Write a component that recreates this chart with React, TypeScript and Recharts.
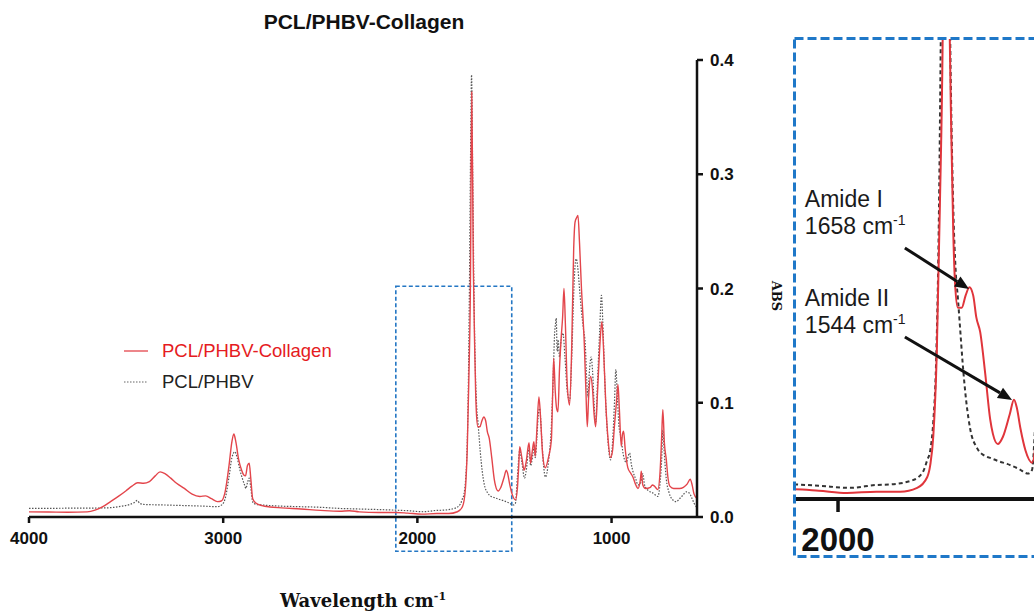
import { LineChart, Line, XAxis, YAxis, ReferenceArea, ReferenceLine, Legend } from 'recharts';

// FTIR spectra (wavenumber cm-1 -> absorbance)
const collagenWn = [
  4000, 3900, 3800, 3700, 3660, 3620, 3580, 3540, 3500, 3470, 3440, 3410, 3380, 3350, 3325, 3300, 3270, 3240, 3200,
  3160, 3120, 3090, 3060, 3030, 3010, 2990, 2970, 2955, 2945, 2935, 2920, 2905, 2895, 2885, 2875, 2866, 2858, 2848,
  2830, 2800, 2760, 2700, 2600, 2500, 2400, 2350, 2300, 2200, 2112, 2050, 1977, 1900, 1838, 1794, 1768, 1760, 1752,
  1743, 1735, 1727, 1720, 1712, 1705, 1700, 1695, 1688, 1678, 1668, 1658, 1648, 1640, 1630, 1617, 1604, 1597, 1584,
  1571, 1553, 1542, 1535, 1525, 1512, 1495, 1485, 1478, 1473, 1462, 1450, 1440, 1425, 1417, 1408, 1400, 1393, 1385,
  1374, 1365, 1355, 1341, 1325, 1310, 1303, 1298, 1290, 1283, 1276, 1268, 1259, 1252, 1245, 1238, 1228, 1216, 1205,
  1195, 1188, 1180, 1173, 1165, 1155, 1148, 1140, 1132, 1125, 1118, 1108, 1098, 1090, 1082, 1072, 1062, 1050, 1042,
  1030, 1018, 1005, 995, 985, 975, 967, 960, 950, 944, 938, 930, 916, 900, 890, 875, 864, 852, 847, 839, 825, 800,
  790, 779, 762, 750, 742, 736, 728, 718, 710, 700, 680, 650, 630, 610, 595, 585, 575, 560,
];
const collagenAbs = [
  0.0045, 0.0044, 0.0042, 0.0045, 0.006, 0.009, 0.0135, 0.018, 0.023, 0.027, 0.03, 0.0295, 0.031, 0.036, 0.0395, 0.038,
  0.034, 0.0295, 0.025, 0.02, 0.018, 0.0185, 0.016, 0.0135, 0.014, 0.022, 0.045, 0.066, 0.0726, 0.066, 0.05, 0.041,
  0.037, 0.036, 0.045, 0.047, 0.034, 0.016, 0.012, 0.01, 0.0088, 0.008, 0.007, 0.0058, 0.005, 0.0055, 0.0045, 0.004,
  0.004, 0.0034, 0.0025, 0.003, 0.003, 0.0046, 0.009, 0.014, 0.026, 0.06, 0.12, 0.2, 0.372, 0.22, 0.15, 0.11, 0.088,
  0.079, 0.079, 0.084, 0.0875, 0.084, 0.075, 0.069, 0.052, 0.033, 0.027, 0.0227, 0.0256, 0.035, 0.041, 0.038, 0.029,
  0.02, 0.015, 0.025, 0.045, 0.0615, 0.052, 0.041, 0.048, 0.065, 0.047, 0.058, 0.066, 0.053, 0.075, 0.105, 0.085,
  0.055, 0.043, 0.052, 0.067, 0.11, 0.139, 0.11, 0.095, 0.092, 0.13, 0.158, 0.175, 0.2, 0.17, 0.115, 0.098, 0.15,
  0.235, 0.258, 0.262, 0.264, 0.24, 0.2, 0.178, 0.15, 0.11, 0.079, 0.105, 0.123, 0.112, 0.09, 0.079, 0.11, 0.145,
  0.171, 0.15, 0.1, 0.068, 0.052, 0.058, 0.08, 0.1, 0.116, 0.095, 0.062, 0.072, 0.075, 0.06, 0.043, 0.038, 0.035,
  0.028, 0.025, 0.032, 0.04, 0.028, 0.025, 0.026, 0.028, 0.027, 0.024, 0.04, 0.07, 0.094, 0.065, 0.05, 0.035, 0.027,
  0.025, 0.025, 0.026, 0.029, 0.033, 0.028, 0.02, 0.016,
];

const phbvWn = [
  4000, 3900, 3800, 3700, 3600, 3520, 3480, 3455, 3443, 3430, 3410, 3300, 3200, 3100, 3030, 3005, 2990, 2970, 2955,
  2940, 2928, 2915, 2900, 2890, 2883, 2875, 2866, 2858, 2848, 2830, 2800, 2700, 2600, 2500, 2400, 2300, 2200, 2112,
  2050, 1969, 1900, 1865, 1805, 1778, 1768, 1760, 1752, 1745, 1738, 1732, 1726, 1721, 1715, 1708, 1700, 1694, 1688,
  1682, 1676, 1666, 1656, 1638, 1620, 1604, 1580, 1560, 1530, 1505, 1495, 1485, 1473, 1462, 1448, 1440, 1425, 1417,
  1405, 1398, 1393, 1385, 1376, 1370, 1360, 1350, 1341, 1325, 1310, 1300, 1294, 1288, 1285, 1280, 1275, 1268, 1260,
  1250, 1240, 1228, 1216, 1205, 1195, 1188, 1182, 1175, 1165, 1155, 1145, 1135, 1128, 1122, 1115, 1105, 1098, 1090,
  1082, 1072, 1062, 1052, 1045, 1035, 1020, 1005, 995, 985, 978, 970, 962, 952, 940, 925, 907, 898, 890, 875, 864,
  850, 839, 830, 810, 787, 762, 750, 742, 736, 730, 718, 705, 690, 667, 650, 633, 615, 600, 590, 575, 560,
];
const phbvAbs = [
  0.0076, 0.0076, 0.0077, 0.0078, 0.008, 0.0095, 0.011, 0.013, 0.0145, 0.012, 0.011, 0.0105, 0.01, 0.0095, 0.009,
  0.011, 0.016, 0.035, 0.052, 0.057, 0.052, 0.042, 0.033, 0.028, 0.025, 0.03, 0.034, 0.026, 0.013, 0.011, 0.0105,
  0.0095, 0.009, 0.0085, 0.0075, 0.007, 0.0065, 0.006, 0.0055, 0.0046, 0.0058, 0.006, 0.0078, 0.0115, 0.016, 0.02,
  0.032, 0.055, 0.11, 0.2, 0.32, 0.387, 0.3, 0.19, 0.12, 0.095, 0.083, 0.07, 0.057, 0.04, 0.029, 0.021, 0.018, 0.017,
  0.0155, 0.0145, 0.0125, 0.0105, 0.012, 0.035, 0.058, 0.048, 0.034, 0.04, 0.06, 0.045, 0.055, 0.062, 0.052, 0.068,
  0.092, 0.095, 0.07, 0.045, 0.035, 0.048, 0.08, 0.125, 0.158, 0.17, 0.174, 0.145, 0.155, 0.14, 0.155, 0.161, 0.14,
  0.11, 0.102, 0.14, 0.195, 0.22, 0.226, 0.22, 0.2, 0.18, 0.165, 0.15, 0.12, 0.105, 0.125, 0.14, 0.128, 0.1, 0.082,
  0.12, 0.16, 0.194, 0.17, 0.12, 0.07, 0.05, 0.065, 0.1, 0.129, 0.105, 0.08, 0.07, 0.055, 0.048, 0.056, 0.046, 0.04,
  0.033, 0.028, 0.03, 0.038, 0.028, 0.023, 0.021, 0.018, 0.03, 0.05, 0.076, 0.06, 0.033, 0.022, 0.016, 0.0134, 0.016,
  0.019, 0.022, 0.021, 0.018, 0.012, 0.008,
];

const seriesNames = ['PCL/PHBV-Collagen', 'PCL/PHBV'];
const xTicks = [4000, 3000, 2000, 1000];
const yTicks = [0, 0.1, 0.2, 0.3, 0.4];
const insetTicks = [2000];

// zoomed window marked on the main spectrum
const zoomWindow = { from: 2111, to: 1514, low: -0.03, high: 0.202 };

// amide band annotations: label lines, arrow start and arrow tip
const amideBands = [
  { lines: ['Amide I', '1658'], start: { x: 1826, y: 0.1037 }, tip: { x: 1659, y: 0.0867 }, dy: [-41, -14] },
  { lines: ['Amide II', '1544'], start: { x: 1826, y: 0.0669 }, tip: { x: 1547, y: 0.0409 }, dy: [-31, -4] },
];

const collagenData = collagenWn.map((w, i) => ({ w, v: collagenAbs[i] }));
const phbvData = phbvWn.map((w, i) => ({ w, v: phbvAbs[i] }));

const RED = '#e3454b';
const SANS = '"Liberation Sans", Arial, sans-serif';
const SERIF = '"DejaVu Serif", serif';

const renderLegend = () => (
  <div style={{ fontFamily: SANS, fontSize: 18.5 }}>
    <div style={{ display: 'flex', alignItems: 'center', height: 31, color: '#e51b22' }}>
      <svg width={38} height={10}>
        <line x1={0} x2={24} y1={5} y2={5} stroke={RED} strokeWidth={1.3} />
      </svg>
      <span>{seriesNames[0]}</span>
    </div>
    <div style={{ display: 'flex', alignItems: 'center', height: 31, color: '#222' }}>
      <svg width={38} height={10}>
        <line x1={0} x2={24} y1={5} y2={5} stroke="#666" strokeWidth={1.2} strokeDasharray="1.5 1.5" />
      </svg>
      <span>{seriesNames[1]}</span>
    </div>
  </div>
);

const arrowShape = (lines: string[], dy: number[]) => (props: any) => {
  const { x1, y1, x2, y2 } = props;
  const ang = Math.atan2(y2 - y1, x2 - x1);
  const len = 14;
  const half = 6;
  const bx = x2 - len * Math.cos(ang);
  const by = y2 - len * Math.sin(ang);
  const px = -Math.sin(ang) * half;
  const py = Math.cos(ang) * half;
  return (
    <g>
      <line x1={x1} y1={y1} x2={bx} y2={by} stroke="#111" strokeWidth={3} />
      <polygon points={`${x2},${y2} ${bx + px},${by + py} ${bx - px},${by - py}`} fill="#111" />
      <text x={x1 - 100} y={y1 + dy[0]} fontFamily={SANS} fontSize={23} fill="#1a1a1a">
        {lines[0]}
      </text>
      <text x={x1 - 100} y={y1 + dy[1]} fontFamily={SANS} fontSize={23} fill="#1a1a1a">
        {lines[1]} cm
        <tspan fontSize={14} dy={-9}>-1</tspan>
      </text>
    </g>
  );
};

export default function App() {
  return (
    <div
      style={{
        position: 'fixed',
        left: 0,
        top: 0,
        width: 1034,
        height: 614,
        overflow: 'hidden',
        background: '#fff',
      }}
    >
      <div
        style={{
          position: 'absolute',
          left: 0,
          top: 10,
          width: 728,
          textAlign: 'center',
          fontFamily: SANS,
          fontWeight: 700,
          fontSize: 21,
          lineHeight: '24px',
          color: '#111',
        }}
      >
        PCL/PHBV-Collagen
      </div>

      <div style={{ position: 'absolute', left: 0, top: 0 }}>
        <LineChart width={800} height={614} margin={{ top: 60, right: 23, bottom: 0, left: 29 }}>
          <XAxis
            type="number"
            dataKey="w"
            domain={[560, 4000]}
            reversed
            ticks={xTicks}
            height={97}
            axisLine={{ stroke: '#111', strokeWidth: 2.5 }}
            tickLine={{ stroke: '#111', strokeWidth: 2.5 }}
            tickSize={6}
            tickMargin={9}
            tick={{ fill: '#111', fontSize: 17, fontWeight: 700, fontFamily: SANS }}
          />
          <YAxis
            orientation="right"
            type="number"
            domain={[0, 0.4]}
            ticks={yTicks}
            width={80}
            axisLine={{ stroke: '#111', strokeWidth: 2.5 }}
            tickLine={{ stroke: '#111', strokeWidth: 2.5 }}
            tickSize={6}
            tickMargin={7}
            tickFormatter={(v: number) => v.toFixed(1)}
            tick={{ fill: '#111', fontSize: 17, fontWeight: 700, fontFamily: SANS, textAnchor: 'start' }}
          />
          <Line
            data={phbvData}
            dataKey="v"
            name={seriesNames[1]}
            type="monotone"
            stroke="#555"
            strokeWidth={1.2}
            strokeDasharray="1.5 1.5"
            dot={false}
            isAnimationActive={false}
          />
          <Line
            data={collagenData}
            dataKey="v"
            name={seriesNames[0]}
            type="monotone"
            stroke={RED}
            strokeWidth={1.4}
            dot={false}
            isAnimationActive={false}
          />
          <ReferenceArea
            x1={zoomWindow.from}
            x2={zoomWindow.to}
            y1={zoomWindow.low}
            y2={zoomWindow.high}
            ifOverflow="visible"
            fill="none"
            stroke="#2477c4"
            strokeWidth={1.6}
            strokeDasharray="4 2.5"
          />
          <Legend
            layout="vertical"
            align="center"
            verticalAlign="middle"
            content={renderLegend}
            wrapperStyle={{ position: 'absolute', left: 124, top: 335, width: 'auto', height: 'auto' }}
          />
        </LineChart>
      </div>

      <div
        style={{
          position: 'absolute',
          left: 776,
          top: 296,
          transform: 'translate(-50%, -50%) rotate(90deg)',
          fontFamily: SERIF,
          fontWeight: 700,
          fontSize: 13,
          color: '#111',
          whiteSpace: 'nowrap',
        }}
      >
        ABS
      </div>

      <div
        style={{
          position: 'absolute',
          left: 363,
          top: 600,
          transform: 'translate(-50%, -50%)',
          fontFamily: SERIF,
          fontWeight: 700,
          fontSize: 18,
          color: '#111',
          whiteSpace: 'nowrap',
        }}
      >
        Wavelength cm<sup style={{ fontSize: 11 }}>-1</sup>
      </div>

      <div style={{ position: 'absolute', left: 795, top: 39 }}>
        <LineChart width={262} height={520} margin={{ top: 0, right: 0, bottom: 0, left: 0 }}>
          <XAxis
            type="number"
            dataKey="w"
            domain={[1430, 2112]}
            reversed
            allowDataOverflow
            ticks={insetTicks}
            height={60}
            axisLine={{ stroke: '#111', strokeWidth: 4 }}
            tickLine={{ stroke: '#111', strokeWidth: 3.5 }}
            tickSize={13}
            tickMargin={16}
            tick={{ fill: '#111', fontSize: 33, fontWeight: 700, fontFamily: SANS }}
          />
          <YAxis hide type="number" domain={[0, 0.19]} allowDataOverflow />
          <Line
            data={phbvData}
            dataKey="v"
            type="monotone"
            stroke="#333"
            strokeWidth={2}
            strokeDasharray="4 3"
            dot={false}
            isAnimationActive={false}
          />
          <Line
            data={collagenData}
            dataKey="v"
            type="monotone"
            stroke="#e0353b"
            strokeWidth={2}
            dot={false}
            isAnimationActive={false}
          />
          {amideBands.map((b) => (
            <ReferenceLine
              key={b.lines[0]}
              segment={[b.start, b.tip]}
              ifOverflow="visible"
              shape={arrowShape(b.lines, b.dy)}
            />
          ))}
        </LineChart>
        <svg
          width={290}
          height={522}
          style={{ position: 'absolute', left: -2, top: -2, pointerEvents: 'none' }}
        >
          <rect
            x={1.5}
            y={1.5}
            width={280}
            height={518}
            fill="none"
            stroke="#1f78c8"
            strokeWidth={3}
            strokeDasharray="9 4"
          />
        </svg>
      </div>
    </div>
  );
}
